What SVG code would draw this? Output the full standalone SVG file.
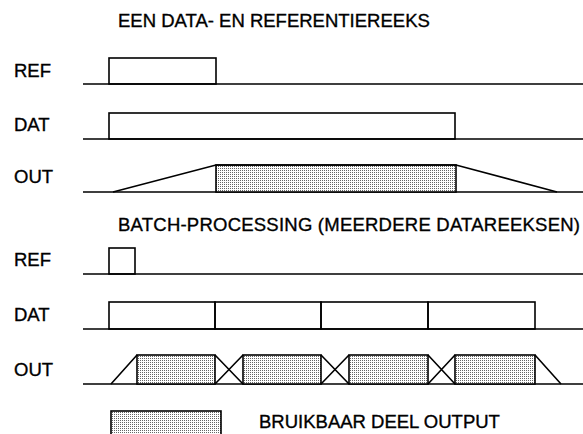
<svg xmlns="http://www.w3.org/2000/svg" width="583" height="434" viewBox="0 0 583 434">
<style>
text{font-family:"Liberation Sans",Arial,sans-serif;font-size:18.5px;fill:#000;stroke:#000;stroke-width:0.35}
.ln{stroke:#000;stroke-width:1.6;fill:none;stroke-linejoin:miter}
.sh{fill:url(#dots);stroke:#000;stroke-width:1.6}
</style>
<defs>
<pattern id="dots" width="2" height="2" patternUnits="userSpaceOnUse">
<rect width="2" height="2" fill="#fff"/>
<rect width="1" height="1" fill="#666"/>
</pattern>
</defs>
<rect width="583" height="434" fill="#fff"/>
<g id="titles">
<text x="118" y="27">EEN DATA- EN REFERENTIEREEKS</text>
<text x="118" y="231" textLength="462" lengthAdjust="spacing">BATCH-PROCESSING (MEERDERE DATAREEKSEN)</text>
</g>
<g id="labels">
<text x="14" y="77">REF</text>
<text x="14" y="131">DAT</text>
<text x="14" y="183">OUT</text>
<text x="14" y="266">REF</text>
<text x="14" y="321">DAT</text>
<text x="14" y="376">OUT</text>
</g>
<g id="connectors">
<path id="baselines" class="ln" d="M83,84H583M83,139H583M83,192H583M83,274H583M83,329H583M83,384H583"/>
<rect id="ref1" class="ln" x="109" y="58" width="107" height="26"/>
<rect id="dat1" class="ln" x="109" y="113" width="346" height="26"/>
<rect id="out1-shade" class="sh" x="216" y="165" width="240" height="27"/>
<polyline id="out1" class="ln" points="113,192 216,165 456,165 557,192"/>
<rect id="ref2" class="ln" x="109" y="248" width="26" height="26"/>
<rect class="ln" x="109" y="302" width="106" height="27"/>
<rect class="ln" x="215" y="302" width="106" height="27"/>
<rect class="ln" x="321" y="302" width="107" height="27"/>
<rect class="ln" x="428" y="302" width="107" height="27"/>
<rect class="sh" x="137" y="355" width="78" height="29"/>
<rect class="sh" x="243" y="355" width="78" height="29"/>
<rect class="sh" x="349" y="355" width="79" height="29"/>
<rect class="sh" x="455" y="355" width="80" height="29"/>
<path id="out2-ramps" class="ln" d="M111,384L137,355M535,355L561,384"/>
<path id="out2-x" class="ln" d="M215,355L243,384M215,384L243,355M321,355L349,384M321,384L349,355M428,355L455,384M428,384L455,355"/>
</g>
<g id="legend">
<rect class="sh" x="111" y="411" width="110" height="34"/>
<text x="259" y="428">BRUIKBAAR DEEL OUTPUT</text>
</g>
</svg>
